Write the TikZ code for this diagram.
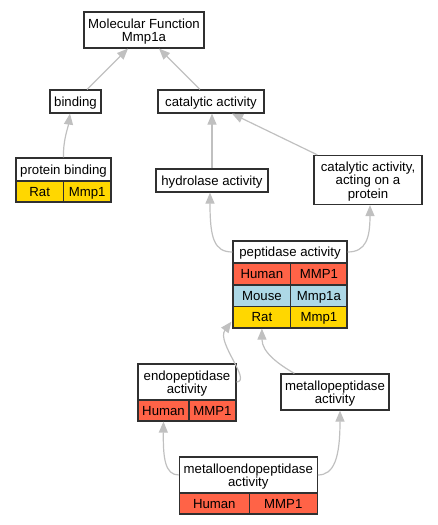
\documentclass[tikz,border=0pt]{standalone}
\usepackage{fontspec}
\setmainfont{Liberation Sans}
\usetikzlibrary{arrows.meta,calc}
\definecolor{edgegray}{HTML}{C0C0C0}
\definecolor{human}{HTML}{FF6347}
\definecolor{mouse}{HTML}{ADD8E6}
\definecolor{rat}{HTML}{FFD700}
\definecolor{border}{HTML}{303030}
\begin{document}
\begin{tikzpicture}[x=1pt,y=-1pt,
 box/.style={draw=border,line width=1.2pt,fill=white,inner sep=0pt,align=center,text depth=0pt,font=\fontsize{13.2}{13.4}\selectfont},
 conn/.style={draw=edgegray,line width=1.2pt,-{Triangle[length=11pt,width=9pt,fill=edgegray]}}]
\useasboundingbox (0,0) rectangle (437,525);
% nodes
\node[box,minimum width=120pt,minimum height=36pt] (mf) at (144,30) {Molecular Function\\Mmp1a};
\node[box,minimum width=51pt,minimum height=23pt] (binding) at (75.5,101.5) {binding};
\node[box,minimum width=106pt,minimum height=23pt] (cat) at (211,101.5) {catalytic activity};
% protein binding
\node[box,minimum width=95pt,minimum height=23pt] (pb) at (63.5,169.5) {protein binding};
\node[box,fill=rat,minimum width=47.5pt,minimum height=21pt] (pbrat) at (39.7,191.5) {Rat};
\node[box,fill=rat,minimum width=47.5pt,minimum height=21pt] (pbgene) at (87.2,191.5) {Mmp1};
\node[box,minimum width=112pt,minimum height=23pt] (hyd) at (212,180.5) {hydrolase activity};
\node[box,minimum width=108pt,minimum height=49pt] (cap) at (368,180) {catalytic activity,\\acting on a\\protein};
% peptidase
\node[box,minimum width=114pt,minimum height=22pt] (pep) at (290,252) {peptidase activity};
\node[box,fill=human,minimum width=57.7pt,minimum height=22pt] (pephs) at (261.9,274) {Human};
\node[box,fill=human,minimum width=56.3pt,minimum height=22pt] (pephg) at (318.9,274) {MMP1};
\node[box,fill=mouse,minimum width=57.7pt,minimum height=21.5pt] (pepms) at (261.9,295.8) {Mouse};
\node[box,fill=mouse,minimum width=56.3pt,minimum height=21.5pt] (pepmg) at (318.9,295.8) {Mmp1a};
\node[box,fill=rat,minimum width=57.7pt,minimum height=21.5pt] (peprs) at (261.9,317.3) {Rat};
\node[box,fill=rat,minimum width=56.3pt,minimum height=21.5pt] (peprg) at (318.9,317.3) {Mmp1};
% endopeptidase
\node[box,minimum width=98pt,minimum height=36pt] (endo) at (187,382) {endopeptidase\\activity};
\node[box,fill=human,minimum width=51pt,minimum height=21pt] (endohs) at (163.5,410.5) {Human};
\node[box,fill=human,minimum width=47pt,minimum height=21pt] (endohg) at (212.5,410.5) {MMP1};
% metallopeptidase
\node[box,minimum width=108pt,minimum height=36pt] (metallo) at (335,392) {metallopeptidase\\activity};
% metalloendopeptidase
\node[box,minimum width=138pt,minimum height=36pt] (me) at (248.3,475) {metalloendopeptidase\\activity};
\node[box,fill=human,minimum width=70pt,minimum height=21pt] (mehs) at (214.3,503.5) {Human};
\node[box,fill=human,minimum width=68pt,minimum height=21pt] (mehg) at (283.3,503.5) {MMP1};
% connectors
\draw[conn] ($(binding.north)+(11.5,0)$) -- ($(mf.south)+(-16,0)$);
\draw[conn] ($(cat.north)+(-11,0)$) -- ($(mf.south)+(15,0)$);
\draw[conn] (pb.north) .. controls (63,140) and (68,128) .. ($(binding.south)+(-5.5,0)$);
\draw[conn] (hyd.north) -- ($(cat.south)+(1,0)$);
\draw[conn] ($(cap.north west)+(4,0)$) -- ($(cat.south)+(21,0)$);
\draw[conn] (pep.west) .. controls (214,252) and (210,238) .. ($(hyd.south)+(-2,0)$);
\draw[conn] (pep.east) .. controls (366,252) and (370,238) .. ($(cap.south)+(2,0)$);
\draw[conn] (endo.east) .. controls (252,381) and (216,342) .. ($(peprs.south west)+(-1,-7)$);
\draw[conn] ($(metallo.north west)+(14,0)$) .. controls (278,364) and (262,352) .. (peprs.south);
\draw[conn] (me.west) .. controls (165,475) and (163,458) .. (endohs.south);
\draw[conn] (me.east) .. controls (334,475) and (340,458) .. ($(metallo.south)+(5,0)$);
\end{tikzpicture}
\end{document}
